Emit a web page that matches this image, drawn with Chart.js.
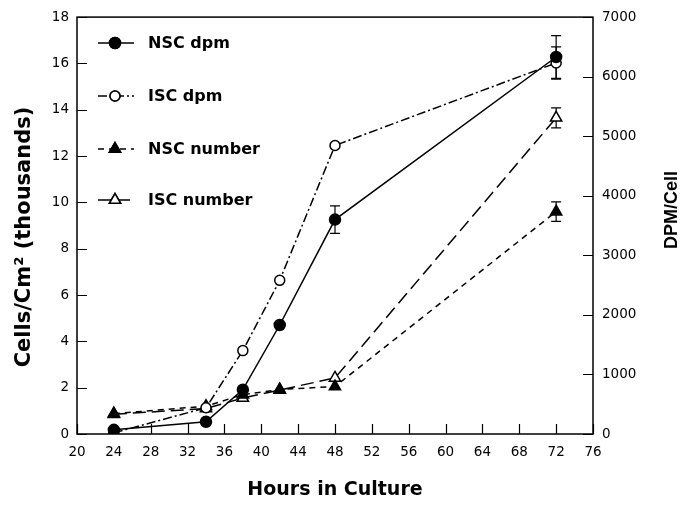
<!DOCTYPE html>
<html>
<head>
<meta charset="utf-8">
<script src="https://cdn.jsdelivr.net/npm/chart.js@4"></script>
<style>
  html, body { margin: 0; padding: 0; background: #fff; }
  #wrap { width: 696px; height: 506px; }
</style>
</head>
<body>
<div id="wrap"><canvas id="chart" width="696" height="506"></canvas></div>
<script>
const hours = [24, 34, 38, 42, 48, 72];

// DPM/Cell (right axis)
const nscDpm = [70, 205, 745, 1830, 3600, 6330];
const iscDpm = [20, 440, 1400, 2580, 4845, 6230];
const nscDpmErr = [0, 0, 0, 0, 230, 360];
const iscDpmErr = [0, 0, 0, 0, 0, 270];

// Cells/Cm2 in thousands (left axis)
const nscNumber = [0.88, 1.2, 1.7, 1.92, 2.05, 9.6];
const iscNumber = [0.85, 1.1, 1.55, 1.9, 2.42, 13.65];
const nscNumberErr = [0, 0, 0, 0, 0, 0.42];
const iscNumberErr = [0, 0, 0, 0, 0, 0.43];

const xTicks = [20, 24, 28, 32, 36, 40, 44, 48, 52, 56, 60, 64, 68, 72, 76];
const leftTicks = [0, 2, 4, 6, 8, 10, 12, 14, 16, 18];
const rightTicks = [0, 1000, 2000, 3000, 4000, 5000, 6000, 7000];

const FONT = '"DejaVu Sans", sans-serif';
const FONT2 = '"Liberation Sans", Arial, sans-serif';

function pts(ys, errs) {
  return hours.map((h, i) => ({ x: h, y: ys[i], err: errs[i] }));
}

const datasets = [
  { label: 'NSC dpm', data: pts(nscDpm, nscDpmErr), yAxisID: 'yR',
    borderDash: [], pointStyle: 'circle', pointRadius: 5.5,
    pointBackgroundColor: '#000' },
  { label: 'ISC dpm', data: pts(iscDpm, iscDpmErr), yAxisID: 'yR',
    borderDash: [9, 3, 2, 3], pointStyle: 'circle', pointRadius: 5,
    pointBackgroundColor: '#fff' },
  { label: 'NSC number', data: pts(nscNumber, nscNumberErr), yAxisID: 'yL',
    borderDash: [6, 5], pointStyle: 'triangle', pointRadius: 6.5,
    pointBackgroundColor: '#000' },
  { label: 'ISC number', data: pts(iscNumber, iscNumberErr), yAxisID: 'yL',
    borderDash: [13, 6], pointStyle: 'triangle', pointRadius: 6.5,
    pointBackgroundColor: '#fff' }
].map(d => Object.assign({
  borderColor: '#000', borderWidth: 1.5, pointBorderColor: '#000',
  pointBorderWidth: 1.5, tension: 0, fill: false
}, d));

// frame, inside ticks, error bars, legend and axis titles
const decor = {
  id: 'decor',
  beforeDatasetsDraw(chart) {
    const ctx = chart.ctx;
    const a = chart.chartArea;
    const sx = chart.scales.x, sl = chart.scales.yL, sr = chart.scales.yR;
    ctx.save();
    ctx.strokeStyle = '#000';
    ctx.lineWidth = 1.5;
    ctx.strokeRect(a.left, a.top, a.right - a.left, a.bottom - a.top);
    ctx.lineWidth = 1.2;
    ctx.beginPath();
    xTicks.forEach(v => {
      const px = Math.round(sx.getPixelForValue(v)) + 0.5;
      ctx.moveTo(px, a.bottom); ctx.lineTo(px, a.bottom - 10);
    });
    leftTicks.forEach(v => {
      const py = Math.round(sl.getPixelForValue(v)) + 0.5;
      ctx.moveTo(a.left, py); ctx.lineTo(a.left + 10, py);
    });
    rightTicks.forEach(v => {
      const py = Math.round(sr.getPixelForValue(v)) + 0.5;
      ctx.moveTo(a.right, py); ctx.lineTo(a.right - 10, py);
    });
    ctx.stroke();

    // error bars
    ctx.lineWidth = 1.2;
    chart.data.datasets.forEach(ds => {
      const sy = chart.scales[ds.yAxisID];
      ds.data.forEach(p => {
        if (!p.err) return;
        const px = sx.getPixelForValue(p.x);
        const top = sy.getPixelForValue(p.y + p.err);
        const bot = sy.getPixelForValue(p.y - p.err);
        ctx.beginPath();
        ctx.moveTo(px, top); ctx.lineTo(px, bot);
        ctx.moveTo(px - 5, top); ctx.lineTo(px + 5, top);
        ctx.moveTo(px - 5, bot); ctx.lineTo(px + 5, bot);
        ctx.stroke();
      });
    });

    // axis titles
    ctx.fillStyle = '#000';
    ctx.font = 'bold 19px ' + FONT;
    ctx.textAlign = 'center';
    ctx.textBaseline = 'middle';
    ctx.fillText('Hours in Culture', (a.left + a.right) / 2, 490);
    ctx.font = 'bold 21px ' + FONT;
    ctx.save();
    ctx.translate(25, 237);
    ctx.rotate(-Math.PI / 2);
    ctx.fillText('Cells/Cm\u00B2 (thousands)', 0, 0);
    ctx.restore();
    ctx.font = 'bold 18px ' + FONT2;
    ctx.save();
    ctx.translate(672, 210);
    ctx.rotate(-Math.PI / 2);
    ctx.fillText('DPM/Cell', 0, 0);
    ctx.restore();

    // legend
    const rows = [43, 96, 149, 200];
    chart.data.datasets.forEach((ds, i) => {
      const y = rows[i];
      ctx.lineWidth = 1.5;
      ctx.setLineDash(ds.borderDash);
      ctx.beginPath();
      ctx.moveTo(98, y); ctx.lineTo(134, y);
      ctx.stroke();
      ctx.setLineDash([]);
      Chart.helpers.drawPoint(ctx, {
        pointStyle: ds.pointStyle, radius: ds.pointRadius, rotation: 0,
        borderWidth: 1.5
      }, 115, y);
      ctx.fillStyle = ds.pointBackgroundColor;
      ctx.strokeStyle = '#000';
      ctx.fill();
      ctx.stroke();
      ctx.fillStyle = '#000';
      ctx.font = 'bold 16px ' + FONT;
      ctx.textAlign = 'left';
      ctx.fillText(ds.label, 148, y + 1);
    });
    ctx.restore();
  }
};

new Chart(document.getElementById('chart'), {
  type: 'line',
  data: { datasets },
  plugins: [decor],
  options: {
    responsive: false,
    animation: false,
    layout: { padding: { top: 14, left: 0, right: 0, bottom: 0 } },
    plugins: { legend: { display: false }, tooltip: { enabled: false } },
    scales: {
      x: {
        type: 'linear', min: 20, max: 76,
        afterBuildTicks: s => { s.ticks = xTicks.map(v => ({ value: v })); },
        afterFit: s => { s.height = 72; },
        grid: { display: false, drawTicks: false },
        border: { display: false },
        ticks: { color: '#000', padding: 10, font: { family: FONT, size: 13.5 }, maxRotation: 0 }
      },
      yL: {
        type: 'linear', position: 'left', min: 0, max: 18,
        afterBuildTicks: s => { s.ticks = leftTicks.map(v => ({ value: v })); },
        afterFit: s => { s.width = 77; },
        grid: { display: false, drawTicks: false },
        border: { display: false },
        ticks: { color: '#000', padding: 8, font: { family: FONT, size: 13.5 } }
      },
      yR: {
        type: 'linear', position: 'right', min: 0, max: 7000,
        afterBuildTicks: s => { s.ticks = rightTicks.map(v => ({ value: v })); },
        afterFit: s => { s.width = 103; },
        grid: { display: false, drawTicks: false },
        border: { display: false },
        ticks: { color: '#000', padding: 9, font: { family: FONT, size: 13.5 },
                 callback: v => String(v) }
      }
    }
  }
});
</script>
</body>
</html>
